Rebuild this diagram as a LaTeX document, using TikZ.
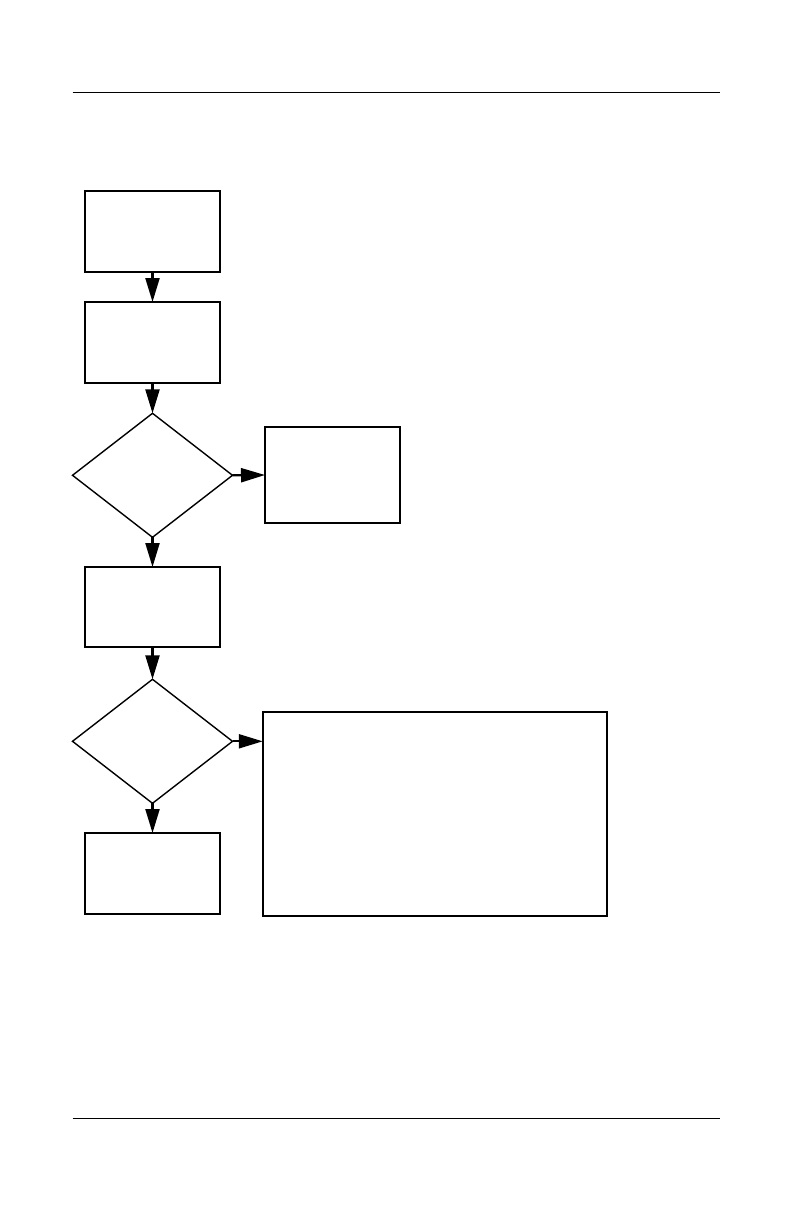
\documentclass[tikz,border=0pt]{standalone}
\usetikzlibrary{shapes.geometric,arrows.meta}
\begin{document}
\begin{tikzpicture}[x=1pt,y=-1pt,
  stepbox/.style={draw,rectangle,line width=2pt,inner sep=0pt,outer sep=0pt},
  choice/.style={draw,diamond,line width=1.4pt,inner sep=0pt,outer sep=0pt,minimum width=160pt,minimum height=124pt},
  flow/.style={line width=2.2pt,-{Triangle[length=24pt,width=14pt]}},
  rule/.style={line width=1.3pt}]
\useasboundingbox (0,0) rectangle (792,1224);
\draw[rule] (72.7,92.5) -- (720,92.5);
\draw[rule] (72.7,1118.5) -- (720,1118.5);
\node[stepbox,minimum width=135pt,minimum height=81pt] (b1) at (152.5,231.5) {};
\node[stepbox,minimum width=135pt,minimum height=81pt] (b2) at (152.5,342.5) {};
\node[choice] (d1) at (152.5,475.3) {};
\node[stepbox,minimum width=135pt,minimum height=96pt] (b3) at (332.5,475) {};
\node[stepbox,minimum width=135pt,minimum height=80pt] (b4) at (152.5,607) {};
\node[choice] (d2) at (152.5,741.3) {};
\node[stepbox,minimum width=135pt,minimum height=81pt] (b5) at (152.5,873.5) {};
\node[stepbox,minimum width=344.5pt,minimum height=204pt] (b6) at (435,814) {};
\draw[flow] (b1.south) -- (b2.north);
\draw[flow] (b2.south) -- (d1.north);
\draw[flow] (d1.east) -- (b3.west);
\draw[flow] (d1.south) -- (b4.north);
\draw[flow] (b4.south) -- (d2.north);
\draw[flow] (d2.east) -- (d2.east -| b6.west);
\draw[flow] (d2.south) -- (b5.north);
\end{tikzpicture}
\end{document}
